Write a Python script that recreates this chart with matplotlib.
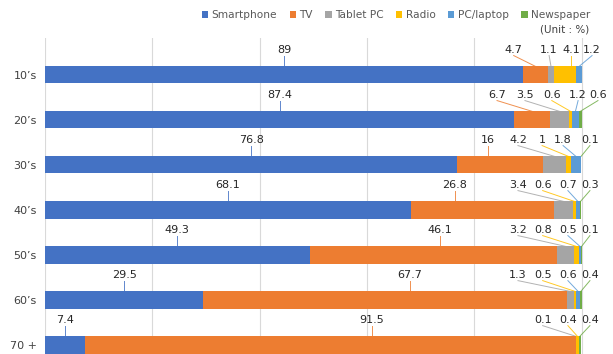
import numpy as np
import matplotlib
matplotlib.use("Agg")
import matplotlib.pyplot as plt

# Share of primary media device by age group (%)
age_groups = ["10\u2019s", "20\u2019s", "30\u2019s", "40\u2019s", "50\u2019s", "60\u2019s", "70 +"]
media = ["Smartphone", "TV", "Tablet PC", "Radio", "PC/laptop", "Newspaper"]

smartphone = [89, 87.4, 76.8, 68.1, 49.3, 29.5, 7.4]
tv = [4.7, 6.7, 16, 26.8, 46.1, 67.7, 91.5]
tablet = [1.1, 3.5, 4.2, 3.4, 3.2, 1.3, 0.1]
radio = [4.1, 0.6, 1, 0.6, 0.8, 0.5, 0.4]
pc_laptop = [1.2, 1.2, 1.8, 0.7, 0.5, 0.6, 0]
newspaper = [0, 0.6, 0.1, 0.3, 0.1, 0.4, 0.4]

colors = ["#4472C4", "#ED7D31", "#A5A5A5", "#FFC000", "#5B9BD5", "#70AD47"]

# where each label sits along the x axis (nan = centred on its segment / not shown)
tv_label_x = [87.3, 84.2, 82.5, 76.3, 73.6, 68.0, 60.9]
small_label_x = [
    [93.9, 98.0, 101.9, np.nan],
    [89.4, 94.4, 99.3, 103.0],
    [88.1, 92.6, 96.5, 101.5],
    [88.1, 92.7, 97.4, 101.5],
    [88.1, 92.7, 97.4, 101.5],
    [88.1, 92.7, 97.4, 101.5],
    [92.7, 97.4, np.nan, 101.5],
]

series = np.array([smartphone, tv, tablet, radio, pc_laptop, newspaper])

W, H = 613, 354
fig = plt.figure(figsize=(W / 100, H / 100), dpi=100)
ax = fig.add_axes([45 / W, 0, 568 / W, 1 - 38 / H])

y = np.arange(len(age_groups))
bar_h = 0.38
left = np.zeros(len(age_groups))
handles = []
for vals, name, col in zip(series, media, colors):
    b = ax.barh(y, vals, left=left, height=bar_h, color=col, label=name, zorder=3)
    handles.append(b)
    left = left + vals

ax.set_xlim(0, 105.8)
ax.set_ylim(6.2, -0.82)
ax.set_xticks([0, 20, 40, 60, 80, 100])
ax.set_xticklabels([])
ax.tick_params(axis="x", length=0)
ax.grid(axis="x", color="#d9d9d9", lw=0.8, zorder=0)
ax.set_yticks(y)
ax.set_yticklabels(age_groups, fontsize=8, color="#404040")
ax.tick_params(axis="y", length=0, pad=6)
for s in ax.spines.values():
    s.set_visible(False)

lab_kw = dict(fontsize=8, color="#262626", ha="center", va="center", zorder=5)

for i in range(len(age_groups)):
    starts = np.concatenate([[0], np.cumsum(series[:, i])[:-1]])
    label_x = [None, tv_label_x[i]] + small_label_x[i]
    for k in range(len(media)):
        v = series[k, i]
        if v <= 0:
            continue
        s0, s1 = starts[k], starts[k] + v
        lx = (s0 + s1) / 2 if label_x[k] is None else label_x[k]
        if np.isnan(lx):
            continue
        ex = lx if s0 + 0.3 < lx < s1 - 0.3 else (s0 + s1) / 2
        ly = i - 0.56
        ax.plot([lx, ex], [ly + 0.13, i - bar_h / 2], color=colors[k],
                lw=0.7, alpha=0.85, zorder=2, clip_on=False)
        ax.text(lx, ly, f"{v:g}", **lab_kw)

fig.legend(handles=handles, loc="center", bbox_to_anchor=(396 / W, 1 - 15 / H),
           ncol=6, frameon=False, fontsize=7.6, handlelength=0.6, handleheight=0.6,
           handletextpad=0.3, columnspacing=1.2, labelcolor="#595959")
fig.text(565 / W, 1 - 30 / H, "(Unit : %)", fontsize=7.5, color="#404040",
         ha="center", va="center")

fig.savefig("out.png", dpi=100)
